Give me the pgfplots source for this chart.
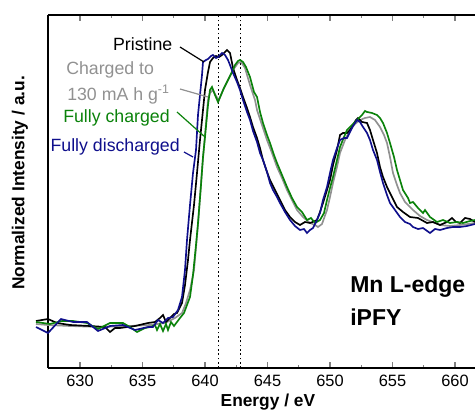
\documentclass[border=0pt]{standalone}
\usepackage{fontspec}
\setmainfont{Liberation Sans}
\usepackage{pgfplots}
\pgfplotsset{compat=1.18}

\definecolor{cgreen}{RGB}{10,130,10}
\definecolor{cblue}{RGB}{15,15,140}
\definecolor{cgray}{RGB}{145,145,145}

\begin{document}
\begin{tikzpicture}
\begin{axis}[
    name=ax,
    scale only axis,
    width=320.25pt, height=264.75pt,
    xmin=627.44, xmax=661.6,
    ymin=-0.46, ymax=3.07,
    axis x line=box, axis y line=left,
    y axis line style={-},
    axis line style={line width=0.9pt},
    clip=false,
    xtick={630,635,...,660},
    minor x tick num=1,
    xtick pos=both,
    tick align=inside,
    major tick length=4.5pt, minor tick length=2.5pt,
    tick style={line width=0.8pt},
    ytick=\empty,
    /pgf/number format/assume math mode=true,
    /pgf/number format/1000 sep={},
    ticklabel style={font=\fontsize{12.3}{14}\selectfont},
    xticklabel style={yshift=-1.5pt},
    xlabel={Energy / eV},
    ylabel={Normalized Intensity / a.u.},
    label style={font=\bfseries\fontsize{13}{15}\selectfont},
    xlabel style={at={(axis description cs:0.515,0)}, anchor=base, yshift=-28.5pt},
    ylabel style={at={(axis description cs:-0.0656,0.524)}, anchor=center, rotate=0},
    every axis plot/.append style={line width=1.25pt},
]
% dotted markers
\addplot[black, dotted, line width=0.7pt] coordinates {(641.04,-0.46) (641.04,3.07)};
\addplot[black, dotted, line width=0.7pt] coordinates {(642.8,-0.46) (642.8,3.07)};

% Charged to 130 mA h g-1
\addplot[cgray] coordinates {
(626.48,-0.02) (627.44,-0.03) (629.2,-0.04) (631.6,-0.05) (634.0,-0.04) (635.6,-0.03)
(636.8,-0.01) (637.6,0.04) (638.16,0.09) (638.48,0.19) (638.8,0.32) (639.12,0.52)
(639.44,0.97) (639.76,1.52) (640.0,1.87) (640.24,2.22) (640.4,2.29) (640.64,2.32)
(640.88,2.26) (641.12,2.22) (641.44,2.32) (641.84,2.42) (642.24,2.52) (642.64,2.59)
(642.88,2.60) (643.2,2.54) (643.6,2.37) (644.0,2.22) (644.16,2.12) (644.56,1.97)
(644.96,1.82) (645.36,1.69) (645.76,1.55) (646.16,1.44) (646.56,1.32) (646.96,1.22)
(647.36,1.12) (647.84,1.05) (648.4,0.99) (648.8,0.97) (649.04,0.95) (649.36,0.98)
(649.76,1.12) (650.0,1.25) (650.24,1.39) (650.56,1.55) (650.8,1.69) (651.2,1.82)
(651.6,1.92) (652.0,1.98) (652.4,2.02) (652.8,2.04) (653.2,2.05) (653.6,2.02)
(654.0,1.95) (654.32,1.87) (654.56,1.79) (654.8,1.65) (655.04,1.49) (655.36,1.37)
(655.6,1.29) (656.0,1.20) (656.64,1.12) (657.2,1.06) (657.76,1.02) (658.4,0.99)
(658.8,0.97) (659.6,0.96) (660.4,0.97) (661.04,0.98) (661.6,0.99)
};

% Pristine
\addplot[black] coordinates {
(626.48,0.01) (627.44,0.03) (628.16,-0.01) (629.2,-0.03) (630.8,-0.04) (632.0,-0.05)
(632.4,-0.10) (632.8,-0.06) (633.2,-0.06) (634.4,-0.04) (635.44,-0.01) (636.0,0.00)
(636.4,0.04) (636.64,0.07) (636.88,0.00) (637.2,0.04) (637.52,0.08) (637.76,0.09)
(638.16,0.19) (638.4,0.37) (638.64,0.62) (638.8,0.82) (639.12,1.17) (639.36,1.49)
(639.6,1.82) (639.84,2.12) (640.0,2.32) (640.24,2.50) (640.4,2.60) (640.64,2.64)
(640.88,2.66) (641.12,2.65) (641.36,2.67) (641.6,2.70) (641.76,2.72) (642.0,2.69)
(642.24,2.54) (642.56,2.42) (642.8,2.34) (643.04,2.25) (643.36,2.14) (643.6,2.05)
(643.84,1.95) (644.16,1.84) (644.4,1.74) (644.64,1.62) (644.96,1.50) (645.2,1.42)
(645.6,1.32) (646.0,1.22) (646.4,1.12) (646.8,1.05) (647.2,1.00) (647.6,0.97)
(648.0,1.00) (648.4,0.99) (648.8,1.01) (648.96,1.02) (649.2,1.10) (649.44,1.19)
(649.76,1.32) (650.0,1.42) (650.24,1.57) (650.56,1.72) (650.8,1.87) (651.04,1.89)
(651.36,1.89) (651.6,1.92) (651.84,1.97) (652.08,2.02) (652.24,2.04) (652.56,2.00)
(652.96,1.99) (653.2,1.92) (653.44,1.82) (653.76,1.69) (654.0,1.55) (654.24,1.45)
(654.56,1.35) (654.96,1.25) (655.36,1.15) (655.84,1.10) (656.4,1.05) (657.04,1.04)
(657.76,0.99) (658.24,1.00) (658.8,0.97) (659.36,1.00) (659.76,1.04) (660.08,1.00)
(660.4,0.99) (660.8,1.04) (661.2,1.03) (661.6,1.00)
};

% Fully charged
\addplot[cgreen] coordinates {
(626.48,0.00) (627.6,-0.02) (628.56,0.01) (629.44,0.01) (630.56,-0.01) (631.44,-0.07)
(632.4,-0.01) (633.44,-0.01) (634.0,-0.05) (634.56,-0.10) (635.2,-0.06) (635.6,-0.05)
(636.0,-0.03) (636.16,-0.08) (636.4,-0.02) (636.64,-0.09) (636.88,-0.02) (637.04,-0.08)
(637.28,0.00) (637.52,-0.04) (637.76,0.00) (638.0,0.04) (638.32,0.09) (638.56,0.17)
(638.8,0.25) (639.04,0.47) (639.28,0.77) (639.44,0.99) (639.68,1.37) (639.84,1.65)
(640.0,1.85) (640.24,2.17) (640.4,2.32) (640.56,2.35) (640.8,2.27) (641.04,2.20)
(641.28,2.27) (641.52,2.34) (641.84,2.42) (642.16,2.50) (642.4,2.57) (642.64,2.61)
(642.8,2.62) (643.04,2.60) (643.28,2.55) (643.6,2.45) (643.92,2.30) (644.16,2.25)
(644.4,2.10) (644.64,1.99) (644.96,1.87) (645.2,1.79) (645.52,1.67) (645.76,1.59)
(646.16,1.47) (646.56,1.35) (646.96,1.24) (647.36,1.15) (647.76,1.10) (648.16,1.02)
(648.48,1.04) (648.8,0.99) (649.2,1.02) (649.52,1.09) (649.76,1.22) (650.0,1.34)
(650.24,1.45) (650.56,1.62) (650.8,1.75) (651.12,1.85) (651.36,1.92) (651.76,1.97)
(652.16,2.02) (652.56,2.07) (652.8,2.11) (652.96,2.10) (653.36,2.09) (653.76,2.07)
(654.0,2.04) (654.24,1.99) (654.56,1.89) (654.8,1.79) (655.12,1.65) (655.36,1.52)
(655.6,1.42) (655.84,1.32) (656.24,1.24) (656.4,1.19) (656.64,1.20) (657.04,1.14)
(657.44,1.09) (657.6,1.12) (658.0,1.05) (658.56,1.00) (659.04,1.02) (659.6,0.99)
(660.16,1.00) (660.64,0.99) (661.2,1.01) (661.6,1.02)
};

% Fully discharged
\addplot[cblue] coordinates {
(626.48,-0.05) (627.44,-0.11) (628.48,0.03) (629.44,0.00) (630.56,0.00) (631.44,-0.09)
(632.4,-0.04) (633.44,-0.03) (634.4,-0.08) (635.44,-0.05) (635.84,-0.05) (636.24,0.02)
(636.64,-0.01) (637.04,0.04) (637.44,0.05) (637.84,0.12) (638.16,0.25) (638.4,0.52)
(638.56,0.82) (638.8,1.17) (639.04,1.49) (639.28,1.72) (639.44,2.07) (639.6,2.27)
(639.76,2.47) (639.84,2.60) (640.08,2.62) (640.24,2.63) (640.48,2.66) (640.64,2.67)
(640.88,2.64) (641.04,2.65) (641.2,2.67) (641.36,2.69) (641.6,2.67) (641.84,2.62)
(642.0,2.57) (642.24,2.49) (642.56,2.40) (642.8,2.32) (643.04,2.22) (643.36,2.10)
(643.6,2.02) (643.84,1.91) (644.16,1.80) (644.4,1.69) (644.64,1.62) (644.96,1.50)
(645.2,1.39) (645.44,1.32) (645.76,1.25) (646.0,1.19) (646.4,1.10) (646.8,1.02)
(647.2,0.96) (647.6,0.92) (647.92,0.93) (648.16,0.89) (648.4,0.92) (648.64,0.94)
(648.88,1.00) (649.2,1.09) (649.44,1.22) (649.76,1.35) (650.0,1.49) (650.24,1.62)
(650.56,1.74) (650.8,1.82) (651.12,1.84) (651.36,1.84) (651.6,1.90) (651.84,1.96)
(652.16,2.02) (652.4,2.00) (652.64,1.95) (652.96,1.89) (653.2,1.82) (653.44,1.72)
(653.76,1.62) (654.0,1.50) (654.24,1.39) (654.56,1.27) (654.8,1.19) (655.2,1.12)
(655.6,1.05) (656.0,1.00) (656.4,0.98) (656.64,0.95) (657.04,0.93) (657.44,0.94)
(658.0,0.89) (658.4,0.93) (658.8,0.92) (659.36,0.94) (659.84,0.95) (660.4,0.95)
(660.96,0.96) (661.6,0.98)
};

% annotations
\node[anchor=east, font=\fontsize{13.3}{15}\selectfont, inner sep=0pt] at (axis cs:637.4,2.78) {Pristine};
\draw[black, line width=0.9pt] (axis cs:638.0,2.75) -- (axis cs:639.92,2.60);
\node[anchor=west, text=cgray, font=\fontsize{13.3}{15}\selectfont, inner sep=0pt] at (axis cs:628.88,2.52) {Charged to};
\node[anchor=west, text=cgray, font=\fontsize{13.3}{15}\selectfont, inner sep=0pt] at (axis cs:628.96,2.27) {130 mA h g\textsuperscript{-1}};
\draw[cgray, line width=0.9pt] (axis cs:638.0,2.33) -- (axis cs:640.24,2.25);
\node[anchor=east, text=cgreen, font=\fontsize{13.3}{15}\selectfont, inner sep=0pt] at (axis cs:637.2,2.04) {Fully charged};
\draw[cgreen, line width=0.9pt] (axis cs:637.76,2.10) -- (axis cs:640.0,1.85);
\node[anchor=east, text=cblue, font=\fontsize{13.3}{15}\selectfont, inner sep=0pt] at (axis cs:638.0,1.75) {Fully discharged};
\draw[cblue, line width=0.9pt] (axis cs:638.32,1.70) -- (axis cs:639.04,1.65);
\node[anchor=west, font=\bfseries\fontsize{17.25}{20}\selectfont, inner sep=0pt] at (axis cs:651.6,0.35) {Mn L-edge};
\node[anchor=west, font=\bfseries\fontsize{17.25}{20}\selectfont, inner sep=0pt] at (axis cs:651.6,0.05) {iPFY};
\end{axis}
\pgfresetboundingbox
\path[use as bounding box] ([xshift=-36pt,yshift=-32.25pt]ax.south west) rectangle ([yshift=11.25pt]ax.north east);
\end{tikzpicture}
\end{document}
